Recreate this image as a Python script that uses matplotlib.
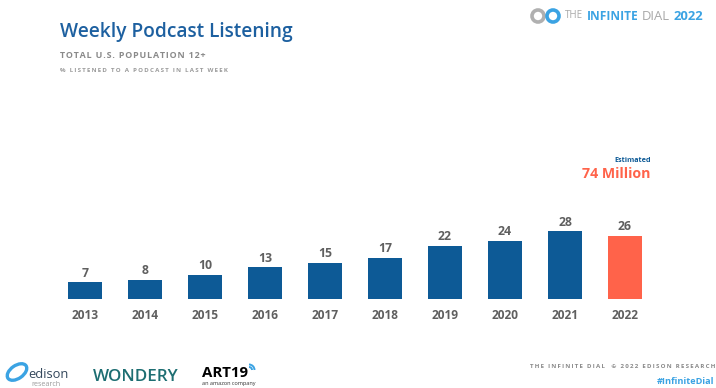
import matplotlib.pyplot as plt
from matplotlib.patches import Ellipse, Arc

# Weekly podcast listening, % of U.S. population 12+
years = ["2013", "2014", "2015", "2016", "2017", "2018", "2019", "2020", "2021", "2022"]
pct = [7, 8, 10, 13, 15, 17, 22, 24, 28, 26]
highlight = "2022"

BLUE = "#0d5a96"
ORANGE = "#ff634a"
GREY = "#5f5f5f"
LIGHT = "#9a9a9a"
SKY = "#3ba3e3"

W, H = 716, 388
plt.rcParams["font.family"] = ["Open Sans", "DejaVu Sans"]
fig = plt.figure(figsize=(W / 100, H / 100), dpi=100)
fig.patch.set_facecolor("white")
renderer = fig.canvas.get_renderer()


def px(x, y):
    # pixel position (from top-left) -> figure fraction
    return x / W, 1 - y / H


def to_disp(x, y):
    # pixel position (from top-left) -> display coords
    return x, H - y


def spaced(s, sep="\u200a"):
    return sep.join(s)


def label(x0, x1, y, s, **kw):
    # put a text between x0 and x1 px, scaling the font so it fills that span
    t = fig.text(*px(x0, y), s, va="center", fontsize=10, **kw)
    w = t.get_window_extent(renderer).width
    t.set_fontsize(10 * (x1 - x0) / w)
    return t


# axes placed so bar i is centred at 85 + 60*i px and baseline sits at 299 px
scale = 2.43
ax = fig.add_axes([40 / W, (H - 299) / H, 640 / W, 40 * scale / H])
ax.set_xlim(-0.75, 9.9167)
ax.set_ylim(0, 40)
ax.axis("off")

xs = range(len(years))
colors = [ORANGE if y == highlight else BLUE for y in years]
ax.bar(xs, pct, width=0.567, color=colors)
for x, v, y in zip(xs, pct, years):
    ax.text(x, v + 1.0, str(v), ha="center", va="bottom", fontsize=8.8,
            fontweight="bold", color=GREY, clip_on=False)
    ax.text(x, -4.0, y, ha="center", va="top", fontsize=8.6,
            fontweight="bold", color=GREY, clip_on=False)

# headline text
label(60, 292, 32, "Weekly Podcast Listening", color="#1d60a0", fontweight="semibold")
label(60, 207, 55, spaced("TOTAL U.S. POPULATION 12+"), color="#8a8a8a",
      fontweight="bold")
label(60, 227, 71, spaced("% LISTENED TO A PODCAST IN LAST WEEK", "\u2009"),
      color="#9a9a9a", fontweight="bold")

# estimate callout
fig.text(*px(651, 160), "Estimated", fontsize=5.2, color=BLUE, fontweight="bold",
         ha="right", va="center")
label(582, 651, 174, "74 Million", color=ORANGE, fontweight="bold")

# top-right branding
for cx, c in [(538, "#b0b0b0"), (553, SKY)]:
    fig.patches.append(Ellipse(px(cx, 16), 12 / W, 12 / H, transform=fig.transFigure,
                               fill=False, lw=2.6, ec=c))
for x0, x1, word, c, w in [(565, 583, "THE", "#a8a8a8", "normal"),
                           (587, 638, "INFINITE", SKY, "bold"),
                           (642, 670, "DIAL", "#a8a8a8", "normal"),
                           (674, 704, "2022", SKY, "bold")]:
    label(x0, x1, 16, word, color=c, fontweight=w)

# footer logos
fig.patches.append(Ellipse(to_disp(17, 372), 22, 13, angle=35, fill=False, lw=2.4,
                           ec=SKY, transform=None))
label(28, 68, 374, "edison", color="#33475b")
label(31, 60, 384, "research", color=LIGHT)
label(93, 178, 377, "WONDERY", color="#1d6e72", fontweight="semibold")
label(202, 248, 373, "ART19", color="black", fontweight="bold")
for r in (6, 11):
    fig.patches.append(Arc(to_disp(249, 370), r, r, theta1=0, theta2=90, lw=1.4,
                           ec=SKY, transform=None))
label(202, 256, 384, "an amazon company", color="#333333")

label(530, 714, 367, spaced("THE INFINITE DIAL", "\u2009") + "    "
      + spaced("© 2022 EDISON RESEARCH", "\u2009"), color="#8a8a8a", fontweight="bold")
label(657, 714, 382, "#InfiniteDial", color=SKY, fontweight="bold")

fig.savefig("out.png", dpi=100, facecolor="white")
